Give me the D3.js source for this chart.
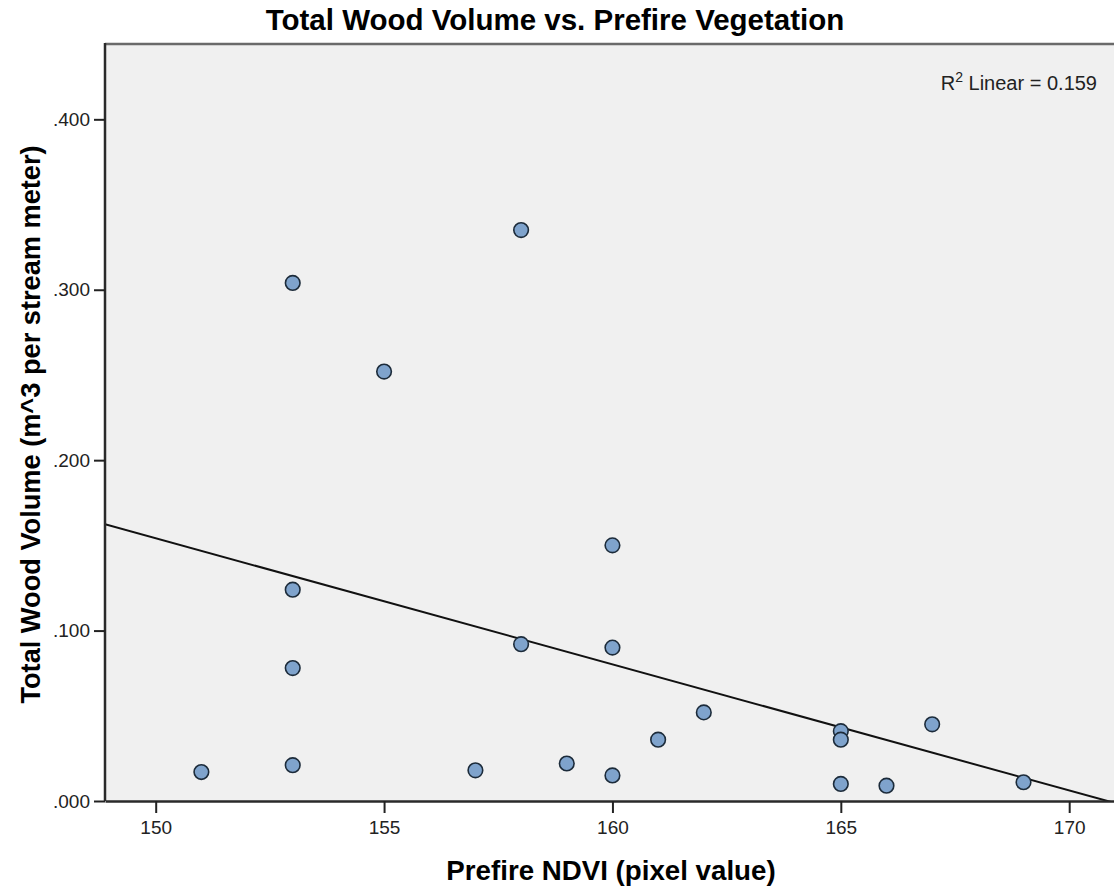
<!DOCTYPE html>
<html>
<head>
<meta charset="utf-8">
<script src="https://cdn.jsdelivr.net/npm/d3@7"></script>
<style>
  html, body { margin: 0; padding: 0; background: #ffffff; }
  svg { display: block; font-family: "Liberation Sans", Arial, sans-serif; }
</style>
</head>
<body>
<svg id="chart" width="1114" height="890"></svg>
<script>
// Prefire NDVI (pixel value) for each stream reach
const ndvi = [151, 153, 153, 153, 153, 155, 157, 158, 158, 159, 160, 160, 160,
              161, 162, 165, 165, 165, 166, 167, 169];
// Total wood volume (m^3 per stream meter) for each reach
const woodVolume = [0.017, 0.021, 0.078, 0.124, 0.304, 0.252, 0.018, 0.335, 0.092,
                    0.022, 0.150, 0.090, 0.015, 0.036, 0.052, 0.041, 0.036, 0.010,
                    0.009, 0.045, 0.011];
const xTicks = [150, 155, 160, 165, 170];
const yTicks = [0, 0.1, 0.2, 0.3, 0.4];
const xDomain = [148.89, 171.2];
const yDomain = [0, 0.4442];

const title = "Total Wood Volume vs. Prefire Vegetation";
const xTitle = "Prefire NDVI (pixel value)";
const yTitle = "Total Wood Volume (m^3 per stream meter)";

const svg = d3.select("#chart");
const plot = { left: 105, right: 1124, top: 44, bottom: 801 };

const x = d3.scaleLinear().domain(xDomain).range([plot.left, plot.right]);
const y = d3.scaleLinear().domain(yDomain).range([plot.bottom, plot.top]);

// Least-squares fit and R squared
const n = ndvi.length;
const mx = d3.mean(ndvi), my = d3.mean(woodVolume);
let sxx = 0, sxy = 0, syy = 0;
for (let i = 0; i < n; i++) {
  const dx = ndvi[i] - mx, dy = woodVolume[i] - my;
  sxx += dx * dx; sxy += dx * dy; syy += dy * dy;
}
const slope = sxy / sxx;
const intercept = my - slope * mx;
const r2 = (sxy * sxy) / (sxx * syy);

// Plot background
svg.append("rect")
  .attr("x", plot.left).attr("y", plot.top)
  .attr("width", plot.right - plot.left).attr("height", plot.bottom - plot.top)
  .attr("fill", "#f0f0f0");

svg.append("clipPath").attr("id", "plotClip")
  .append("rect")
  .attr("x", plot.left).attr("y", plot.top)
  .attr("width", plot.right - plot.left).attr("height", plot.bottom - plot.top);

// Fit line across the x range
const fit = d3.line()
  .x(d => x(d))
  .y(d => y(intercept + slope * d));
svg.append("path")
  .attr("clip-path", "url(#plotClip)")
  .attr("d", fit([xDomain[0], 172]))
  .attr("fill", "none")
  .attr("stroke", "#111")
  .attr("stroke-width", 2);

// Points
svg.append("g")
  .selectAll("circle")
  .data(ndvi.map((v, i) => [v, woodVolume[i]]))
  .join("circle")
  .attr("cx", d => x(d[0]))
  .attr("cy", d => y(d[1]))
  .attr("r", 7.3)
  .attr("fill", "#7fa3cc")
  .attr("stroke", "#1c2b3a")
  .attr("stroke-width", 1.6);

// Frame: top border
svg.append("line")
  .attr("x1", plot.left).attr("x2", plot.right)
  .attr("y1", plot.top).attr("y2", plot.top)
  .attr("stroke", "#6a6a6a").attr("stroke-width", 2.5);

// Axes
const fmtY = v => d3.format(".3f")(v).replace(/^0/, "");
const xAxis = d3.axisBottom(x).tickValues(xTicks).tickSize(12).tickPadding(8).tickSizeOuter(0);
const yAxis = d3.axisLeft(y).tickValues(yTicks).tickFormat(fmtY).tickSize(11).tickPadding(4).tickSizeOuter(0);

const gx = svg.append("g").attr("transform", `translate(0,${plot.bottom})`).call(xAxis);
const gy = svg.append("g").attr("transform", `translate(${plot.left},0)`).call(yAxis);

[gx, gy].forEach(g => {
  g.select(".domain").attr("stroke", "#2a2a2a").attr("stroke-width", 2.5);
  g.selectAll(".tick line").attr("stroke", "#222").attr("stroke-width", 2);
  g.selectAll(".tick text")
    .attr("fill", "#222")
    .style("font-family", "'Liberation Sans', Arial, sans-serif")
    .style("font-size", "19px");
});
gy.select(".domain").attr("d", `M0,${plot.top - 1}V${plot.bottom}`);

// Titles
svg.append("text")
  .attr("x", 555).attr("y", 30)
  .attr("text-anchor", "middle")
  .style("font-size", "29.5px").style("font-weight", "bold")
  .attr("fill", "#000")
  .text(title);

svg.append("text")
  .attr("x", 611).attr("y", 880)
  .attr("text-anchor", "middle")
  .style("font-size", "27.7px").style("font-weight", "bold")
  .attr("fill", "#000")
  .text(xTitle);

svg.append("text")
  .attr("transform", `translate(40,${(plot.top + plot.bottom) / 2 + 2}) rotate(-90)`)
  .attr("text-anchor", "middle")
  .style("font-size", "27.2px").style("font-weight", "bold")
  .attr("fill", "#000")
  .text(yTitle);

// R squared annotation
const r2Text = svg.append("text")
  .attr("x", 1097).attr("y", 90)
  .attr("text-anchor", "end")
  .style("font-size", "20px")
  .attr("fill", "#222");
r2Text.append("tspan").text("R");
r2Text.append("tspan").attr("dy", -8).style("font-size", "14px").text("2");
r2Text.append("tspan").attr("dy", 8).text(" Linear = " + r2.toFixed(3));
</script>
</body>
</html>
